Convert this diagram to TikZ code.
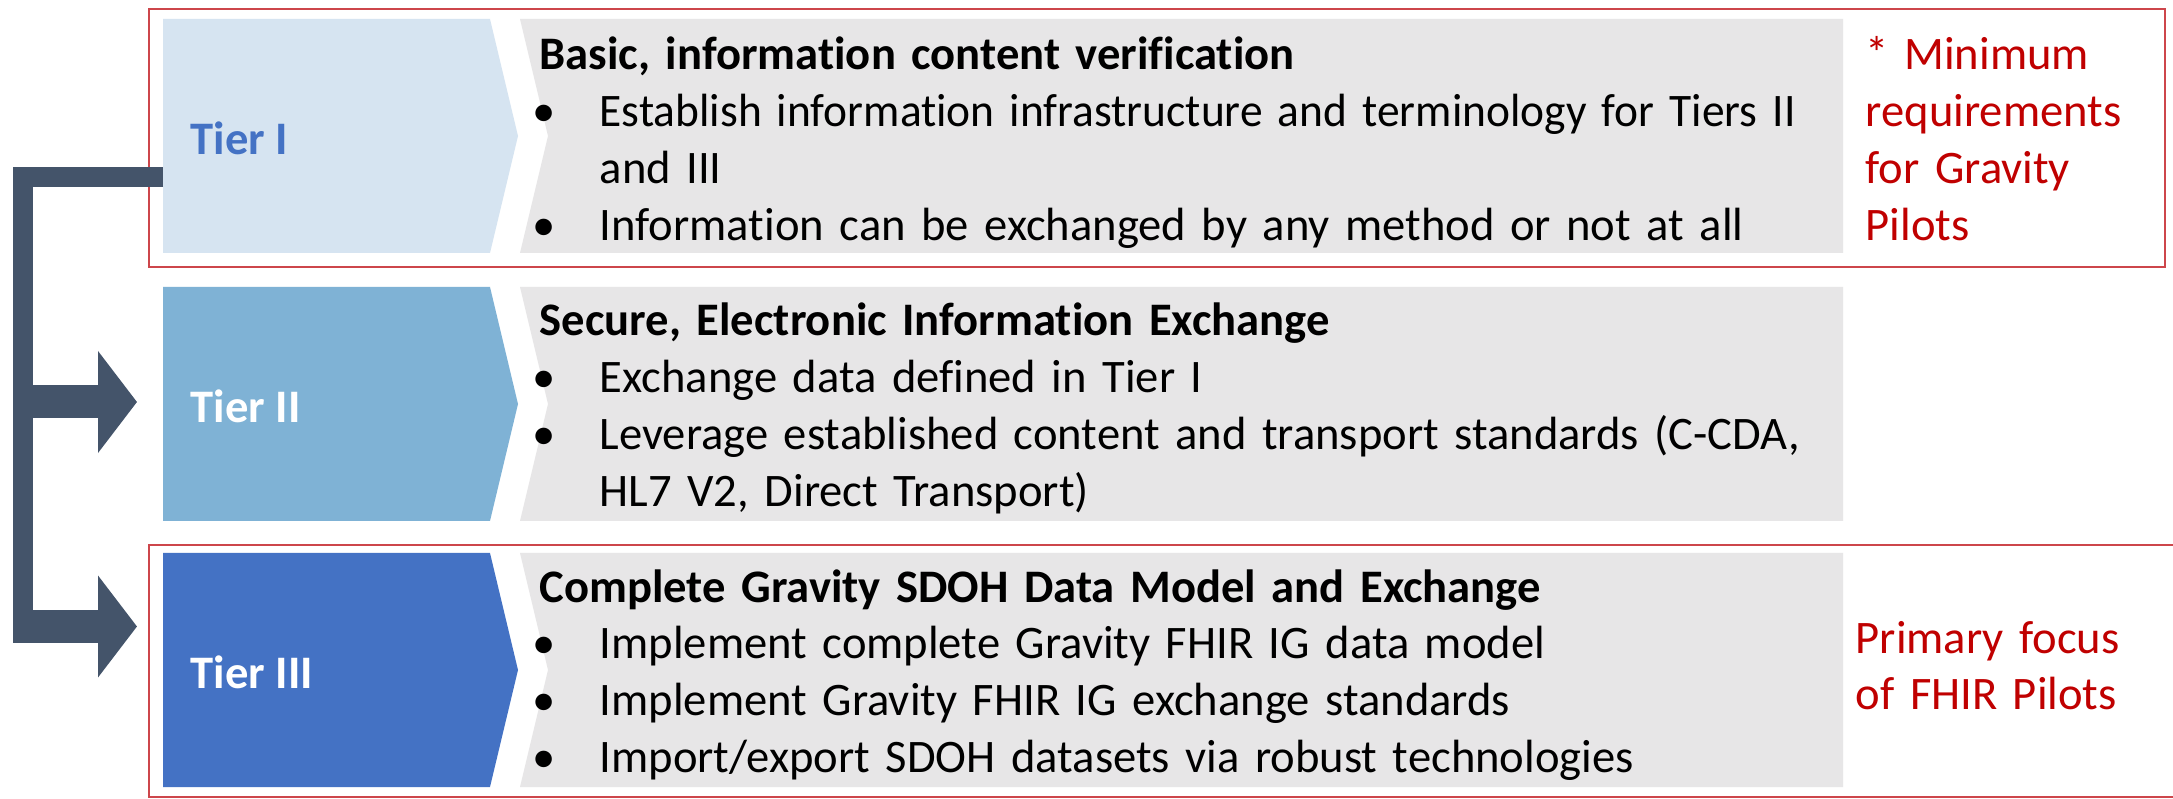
\documentclass[tikz,border=0pt]{standalone}
\usepackage{fontspec}
\setmainfont{Carlito}[Ligatures=NoCommon]
\usepackage{tikz}
\usetikzlibrary{positioning}
\usetikzlibrary{arrows.meta}
\definecolor{tierone}{RGB}{214,228,241}
\definecolor{tiertwo}{RGB}{127,178,213}
\definecolor{tierthree}{RGB}{68,114,196}
\definecolor{boxgray}{RGB}{231,230,231}
\definecolor{slate}{RGB}{68,84,106}
\definecolor{pilotred}{RGB}{192,0,0}
\definecolor{framered}{RGB}{205,70,75}
\tikzset{
  every node/.style={
    align=left,
    draw=none,
    inner sep=0pt,
  },
  tierlabel/.style={font=\fontsize{13.26pt}{16.2pt}\selectfont\bfseries, anchor=west},
  desc/.style={font=\fontsize{13.26pt}{16.2pt}\selectfont, anchor=base west, text width=13.2cm},
  note/.style={font=\fontsize{13.26pt}{16.2pt}\selectfont, anchor=base west, text width=3cm, text=pilotred},
  redframe/.style={draw=framered, line width=0.2mm},
  bar/.style={draw=slate, line width=2mm},
  shaft/.style={draw=slate, line width=3.3mm, -{Triangle[width=10mm, length=3.9mm]}},
}
\newcommand{\bul}{\makebox[6mm][l]{\hspace*{-0.7mm}\textbullet}}
\newcommand{\hang}{\hspace*{6mm}}

\begin{document}
\begin{tikzpicture}[x=0.1mm, y=-0.1mm]
  \useasboundingbox (0,0) rectangle (2173,799);
  \fill[white] (0,0) rectangle (2173,799);
  \clip (0,0) rectangle (2173,799);
  \foreach \i/\ty/\col/\lab/\labcol in {1/19/tierone/Tier I/tierthree, 2/287/tiertwo/Tier II/white, 3/553/tierthree/Tier III/white} {
    \fill[\col] (163,\ty) -- ++(327,0) -- ++(28,117) -- ++(-28,117) -- ++(-327,0) -- cycle;
    \fill[boxgray] (520,\ty) -- (1843,\ty) -- ++(0,234) -- (520,\ty+234) -- (548,\ty+117) -- cycle;
    \node[tierlabel, text=\labcol] (tier\i) at (190,\ty+119) {\lab};
  }
  \node[desc] (desc1) at (539,70) {\textbf{Basic, information content verification}\\
    \bul \scalebox{0.975}[1]{Establish information infrastructure and terminology for Tiers II}\\
    \hang and III\\
    \bul Information can be exchanged by any method or not at all};
  \node[desc] (desc2) at (539,336) {\textbf{Secure, Electronic Information Exchange}\\
    \bul Exchange data defined in Tier I\\
    \bul Leverage established content and transport standards (C-CDA,\\
    \hang HL7 V2, Direct Transport)};
  \node[desc] (desc3) at (539,602) {\textbf{Complete Gravity SDOH Data Model and Exchange}\\
    \bul Implement complete Gravity FHIR IG data model\\
    \bul Implement Gravity FHIR IG exchange standards\\
    \bul Import/export SDOH datasets via robust technologies};
  \node[note] (minreq) at (1865,70) {* Minimum\\requirements\\for Gravity\\Pilots};
  \node[note] (focus) at (1855,653) {Primary focus\\of FHIR Pilots};
  \draw[redframe] (149,9) rectangle (2165,267);
  \draw[redframe] (149,545) rectangle (2190,797);
  \coordinate (feed) at (163,177.5);
  \coordinate (foot) at (23,643);
  \coordinate (in2) at (137,402);
  \coordinate (in3) at (137,626.5);
  \draw[bar] (feed) -| (foot);
  \draw[shaft] (foot |- in2) -- (in2);
  \draw[shaft] (foot |- in3) -- (in3);
\end{tikzpicture}
\end{document}
